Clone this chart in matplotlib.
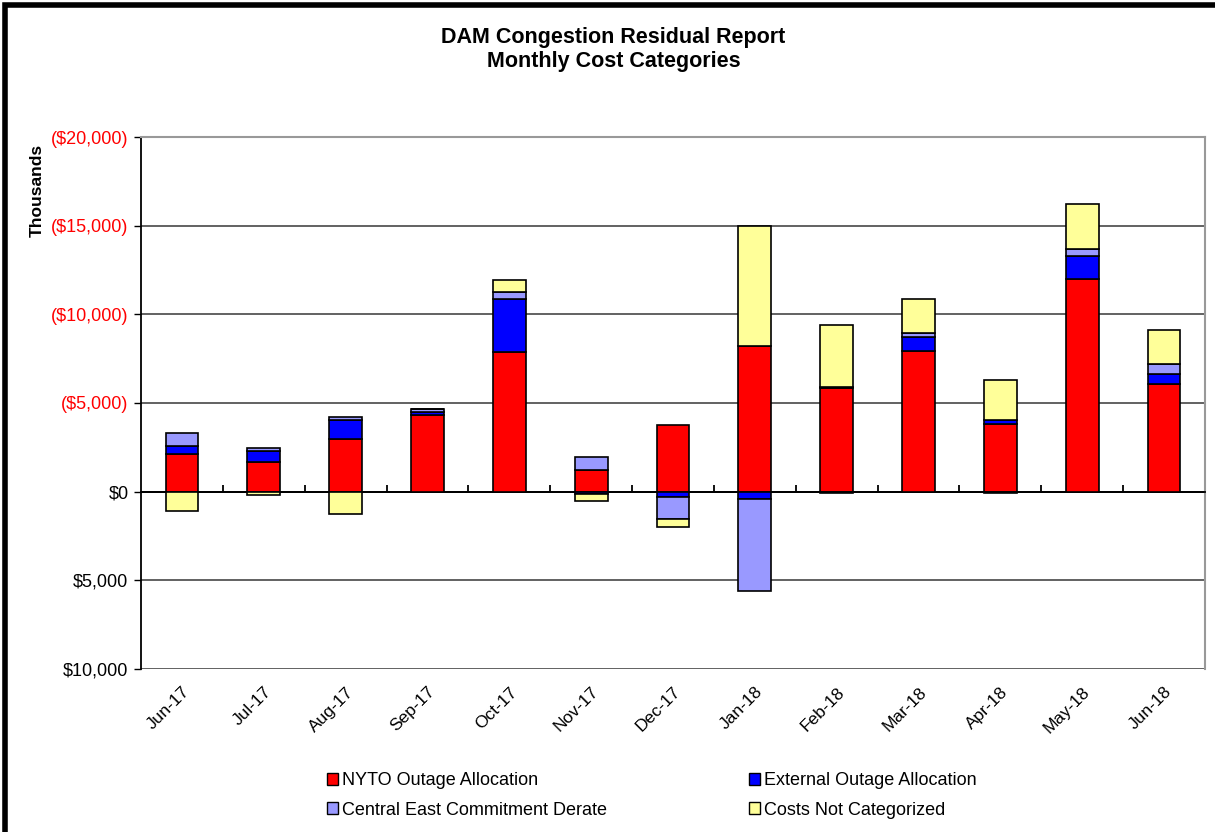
import numpy as np
import matplotlib
matplotlib.use('Agg')
import matplotlib.pyplot as plt
from matplotlib.patches import Rectangle, Patch
from matplotlib.ticker import FuncFormatter

plt.rcParams['font.family'] = ['Liberation Sans', 'DejaVu Sans']

# values in thousands of dollars, cost shown as positive (upward)
months = ['Jun-17', 'Jul-17', 'Aug-17', 'Sep-17', 'Oct-17', 'Nov-17', 'Dec-17',
          'Jan-18', 'Feb-18', 'Mar-18', 'Apr-18', 'May-18', 'Jun-18']
nyto = [2130, 1680, 2970, 4350, 7880, 1200, 3740, 8200, 5830, 7930, 3800, 11990, 6090]
external = [450, 600, 1070, 130, 2990, -150, -320, -395, 100, 770, 260, 1300, 560]
central = [730, 170, 170, 170, 370, 770, -1200, -5190, -70, 230, -75, 400, 545]
costs = [-1070, -170, -1240, 0, 700, -400, -490, 6800, 3470, 1940, 2215, 2540, 1900]

series = [('NYTO Outage Allocation', nyto, '#ff0000'),
          ('External Outage Allocation', external, '#0000ff'),
          ('Central East Commitment Derate', central, '#9999ff'),
          ('Costs Not Categorized', costs, '#ffff99')]

fig = plt.figure(figsize=(12.15, 8.32), dpi=100)
ax = fig.add_axes([141/1215, 1-669/832, (1205-141)/1215, (669-137)/832])

x = np.arange(len(months))
pos_base = np.zeros(len(months))
neg_base = np.zeros(len(months))
for name, vals, col in series:
    v = np.array(vals, dtype=float)
    bottoms = np.where(v >= 0, pos_base, neg_base)
    ax.bar(x, v, width=0.4, bottom=bottoms, color=col, edgecolor='black',
           linewidth=1.2, zorder=3)
    pos_base += np.where(v > 0, v, 0)
    neg_base += np.where(v < 0, v, 0)

ax.set_xlim(-0.5, len(months) - 0.5)
ax.set_ylim(-10000, 20000)
ax.set_yticks(np.arange(-10000, 20001, 5000))


def money(v, pos):
    if v > 0:
        return '(${:,.0f})'.format(v)
    return '${:,.0f}'.format(abs(v))


ax.yaxis.set_major_formatter(FuncFormatter(money))
ax.tick_params(axis='y', labelsize=13, length=5, width=1, direction='out', pad=4)
for lab, val in zip(ax.get_yticklabels(), ax.get_yticks()):
    lab.set_color('#ff0000' if val > 0 else 'black')

ax.yaxis.grid(True, color='#555555', linewidth=1.3, zorder=0)
ax.set_axisbelow(True)
ax.axhline(0, color='black', linewidth=1.3, zorder=2)

# category axis sits at zero, labels at the bottom
ax.spines['bottom'].set_position(('data', 0))
ax.spines['bottom'].set_linewidth(1.3)
ax.set_xticks(x)
ax.set_xticklabels([])
ax.tick_params(axis='x', which='major', length=0)
ax.set_xticks(x[:-1] + 0.5, minor=True)
ax.tick_params(axis='x', which='minor', direction='in', length=5, width=1.3)

sec = ax.secondary_xaxis(0)
sec.set_xticks(x)
sec.set_xticklabels(months, rotation=45, ha='right', rotation_mode='anchor', fontsize=12.5)
sec.tick_params(length=0, pad=11)
sec.spines['bottom'].set_visible(False)

ax.spines['left'].set_linewidth(1.3)
ax.spines['top'].set_color('#999999')
ax.spines['right'].set_color('#999999')
ax.spines['top'].set_linewidth(1.5)
ax.spines['right'].set_linewidth(1.5)

ax.set_ylabel('Thousands', fontsize=12.5, fontweight='bold')
ax.yaxis.set_label_coords(-0.09, 0.90)

fig.text(0.505, 1-38/832, 'DAM Congestion Residual Report', ha='center', va='center',
         fontsize=15.5, fontweight='bold')
fig.text(0.505, 1-62/832, 'Monthly Cost Categories', ha='center', va='center',
         fontsize=15.5, fontweight='bold')

handles = [Patch(facecolor=series[i][2], edgecolor='black', label=series[i][0])
           for i in [0, 2, 1, 3]]
fig.legend(handles=handles, ncol=2, loc='upper left', frameon=False,
           bbox_to_anchor=(311/1215, 1-756/832), fontsize=13,
           handlelength=0.6, handleheight=0.6, handletextpad=0.2,
           columnspacing=7.9, labelspacing=0.68)

fig.add_artist(Rectangle((5/1215, -0.1), 1.2, 1.1 - 5/832, transform=fig.transFigure,
                         fill=False, edgecolor='black', linewidth=4, clip_on=False))

fig.savefig('out.png', dpi=100)
